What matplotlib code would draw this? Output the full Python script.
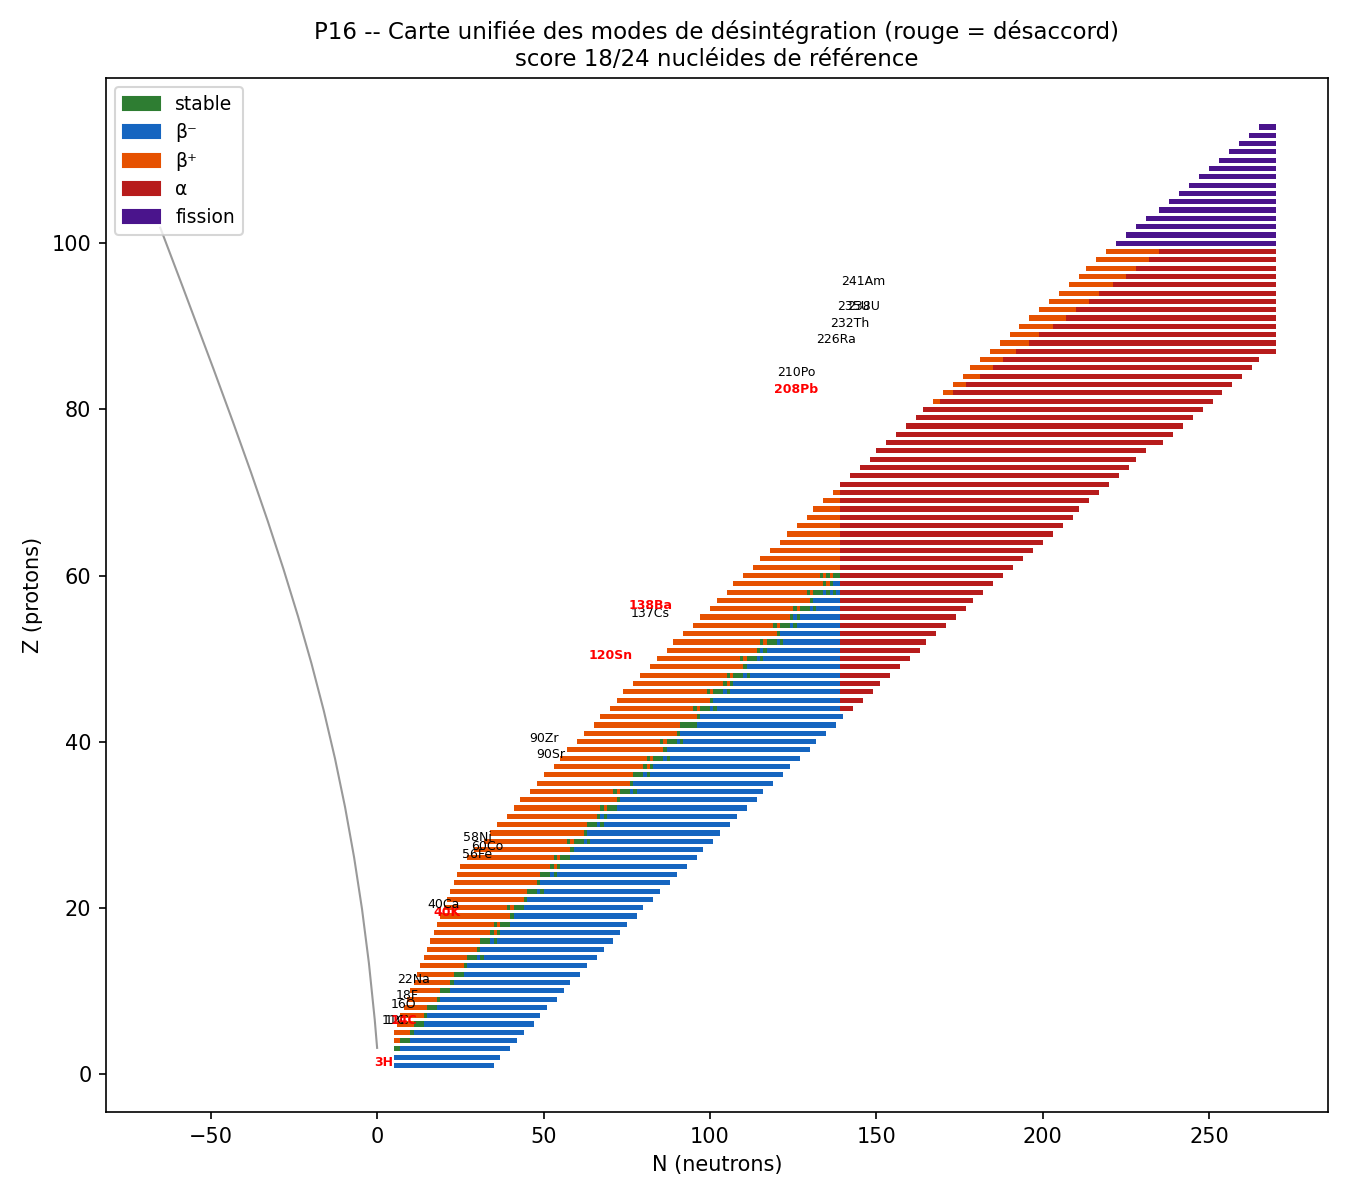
import numpy as np
import matplotlib
matplotlib.use("Agg")
import matplotlib.pyplot as plt
from matplotlib.patches import Patch, PathPatch
from matplotlib.path import Path

# --- data ----------------------------------------------------------------
# one row per Z: first N of the row, then runs "<mode><count>"
# S = stable, B = beta-, P = beta+, A = alpha, F = fission
z_rows = list(range(1, 115))
n_start = [5, 5, 5, 5, 5, 6, 7, 8, 9, 10,
           11, 12, 13, 14, 15, 16, 17, 18, 19, 20,
           21, 22, 23, 24, 25, 27, 29, 32, 34, 36,
           39, 41, 43, 46, 48, 50, 53, 55, 57, 60,
           62, 65, 67, 70, 72, 74, 77, 79, 82, 84,
           87, 89, 92, 95, 97, 100, 102, 105, 107, 110,
           113, 115, 118, 121, 123, 126, 129, 131, 134, 137,
           139, 142, 145, 148, 150, 153, 156, 159, 162, 164,
           167, 170, 173, 176, 178, 181, 184, 187, 190, 193,
           196, 199, 202, 205, 208, 211, 213, 216, 219, 222,
           225, 228, 231, 235, 238, 241, 244, 247, 250, 253,
           256, 259, 262, 265]
row_runs = [
    "B30", "B32", "S2 B33", "P2 S3 B32", "P5 S1 B33",
    "P5 S3 B33", "P7 S1 B34", "P7 S3 B33", "P9 S1 B35", "P9 S3 B34",
    "P11 S1 B35", "P11 S3 B35", "P13 S1 B36", "P13 S3 B1 S1 B34", "P15 S1 B37",
    "P15 S3 B1 S1 B35", "P17 S1 P1 S1 B36", "P17 S1 P1 S3 B35", "P21 S1 B37", "P19 S1 P1 S3 B36",
    "P23 S1 B38", "P23 S3 B1 S1 B35", "P25 S1 B39", "P25 S3 B1 S1 B36", "P27 S1 P1 S1 B38",
    "P26 S1 P1 S3 B38", "P29 S1 B39", "P25 S1 P1 S3 B1 S1 B37", "P28 S1 B40", "P27 S3 B1 S1 B38",
    "P27 S1 B1 S1 B39", "P26 S1 P1 S3 B39", "P29 S1 B41", "P25 S1 P1 S3 B1 S1 B38", "P28 S1 B42",
    "P27 S3 B1 S1 B40", "P27 S1 P1 S1 B41", "P26 S1 P1 S3 B1 S1 B39", "P29 S1 B43", "P25 S1 P1 S3 B1 S1 B40",
    "P28 S1 B44", "P26 S5 B42", "P29 S1 B43", "P25 S1 P1 S3 B1 S1 B37 A4", "P28 S1 B38 A7",
    "P25 S1 P1 S3 B1 S1 B33 A10", "P27 S1 P1 S1 B32 A12", "P26 S1 P1 S3 B1 S1 B27 A15", "P28 S1 B28 A18",
    "P25 S1 P1 S3 B1 S1 B23 A21",
    "P27 S1 B1 S1 B22 A24", "P26 S1 P1 S3 B1 S1 B17 A26", "P28 S1 B18 A29", "P24 S1 P1 S3 B1 S1 B13 A32",
    "P27 S1 B1 S1 B12 A35",
    "P25 S1 P1 S3 B1 S1 B7 A38", "P28 S1 B8 A40", "P24 S1 P1 S3 B1 S1 B1 S1 B1 A43", "P27 S1 P1 S1 B2 A46",
    "P23 S1 P1 S1 P1 S2 A49",
    "P26 A52", "P24 A55", "P21 A58", "P18 A61", "P16 A64",
    "P13 A67", "P10 A70", "P8 A72", "P5 A75", "P2 A78",
    "A81", "A81", "A81", "A80", "A81",
    "A83", "A83", "A83", "A83", "A84",
    "P2 A82", "P3 A81", "P4 A80", "P5 A79", "P7 A78",
    "P7 A77", "P8 A78", "P9 A74", "P9 A71", "P10 A67",
    "P11 A63", "P11 A60", "P12 A56", "P12 A53", "P13 A49",
    "P14 A45", "P15 A42", "P16 A38", "P16 A35", "F48",
    "F45", "F42", "F39", "F35", "F32",
    "F29", "F26", "F23", "F20", "F17",
    "F14", "F11", "F8", "F5",
]

mode_codes = ["S", "B", "P", "A", "F"]
mode_names = ["stable", "β⁻", "β⁺", "α", "fission"]
mode_colors = ["#2e7d32", "#1565c0", "#e65100", "#b71c1c", "#4a148c"]

# reference nuclides (label, N, Z, matched?)
ref_names = ["3H", "11C", "12C", "14C", "16O", "18F", "22Na", "40K", "40Ca", "56Fe",
             "60Co", "58Ni", "90Sr", "90Zr", "120Sn", "137Cs", "138Ba", "208Pb", "210Po",
             "226Ra", "232Th", "235U", "238U", "241Am"]
ref_n = [2, 5, 6, 8, 8, 9, 11, 21, 20, 30, 33, 30, 52, 50, 70, 82, 82, 126, 126, 138, 142, 143, 146, 146]
ref_z = [1, 6, 6, 6, 8, 9, 11, 19, 20, 26, 27, 28, 38, 40, 50, 55, 56, 82, 84, 88, 90, 92, 92, 95]
ref_ok = [0, 1, 1, 0, 1, 1, 1, 0, 1, 1, 1, 1, 1, 1, 0, 1, 0, 0, 1, 1, 1, 1, 1, 1]

# grey guide curve (end points and Bezier control points)
curve_n = [0.0, -7.7, -28.5, -65.3]
curve_z = [3.0, 41.2, 63.1, 102.0]

# --- expand rows into single nuclide cells ------------------------------
cells = {c: ([], []) for c in mode_codes}
for z, n0, runs in zip(z_rows, n_start, row_runs):
    n = n0
    for tok in runs.split():
        code, count = tok[0], int(tok[1:])
        for k in range(count):
            cells[code][0].append(n + k)
            cells[code][1].append(z)
        n += count

fig, ax = plt.subplots(figsize=(9, 8), dpi=150)
fig.subplots_adjust(left=0.0785, right=0.9837, top=0.935, bottom=0.0733)

for code, color in zip(mode_codes, mode_colors):
    ns, zs = cells[code]
    if ns:
        ax.barh(zs, 1, left=ns, height=0.62, color=color, linewidth=0)

curve = Path(list(zip(curve_n, curve_z)),
             [Path.MOVETO, Path.CURVE4, Path.CURVE4, Path.CURVE4])
ax.add_patch(PathPatch(curve, facecolor="none", edgecolor="gray", lw=1, alpha=0.8))

for name, n, z, ok in zip(ref_names, ref_n, ref_z, ref_ok):
    if ok:
        ax.text(n, z + 0.4, name, fontsize=6, ha="center", va="center", color="black")
    else:
        ax.text(n, z + 0.4, name, fontsize=6, ha="center", va="center", color="red",
                fontweight="bold")

handles = [Patch(color=c, label=l) for c, l in zip(mode_colors, mode_names)]
ax.legend(handles=handles, loc="upper left", fontsize=9)

ax.set_xlim(-81.5, 285.7)
ax.set_ylim(-4.6, 119.9)
ax.set_xlabel("N (neutrons)")
ax.set_ylabel("Z (protons)")
ax.set_title("P16 -- Carte unifiée des modes de désintégration (rouge = désaccord)\n"
             "score 18/24 nucléides de référence", fontsize=11)

fig.savefig("out.png", dpi=150)
